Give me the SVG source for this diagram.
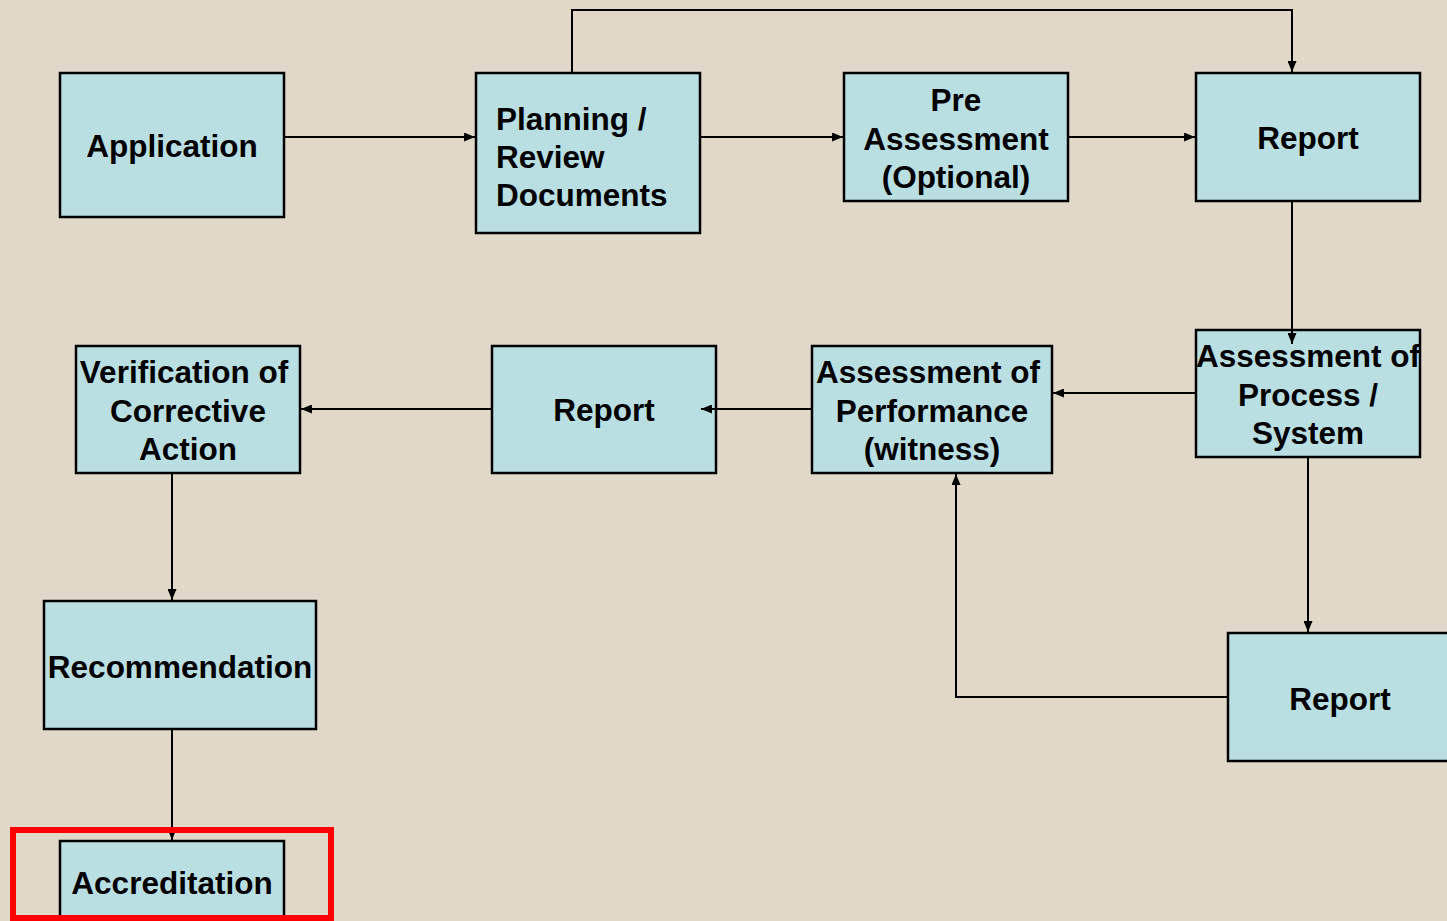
<svg xmlns="http://www.w3.org/2000/svg" width="1447" height="921" viewBox="0 0 1447 921">
<style>
.box{fill:#B9DFE3;stroke:#000;stroke-width:2.5}
.t{font-family:"Liberation Sans",Arial,sans-serif;font-weight:bold;font-size:31.5px;fill:#000;text-anchor:middle}
.tl{text-anchor:start}
.c{fill:none;stroke:#000;stroke-width:2}
</style>
<defs>
<marker id="a" viewBox="0 0 11 9" refX="11" refY="4.5" markerWidth="11" markerHeight="9" markerUnits="userSpaceOnUse" orient="auto">
<path d="M0,0 L11,4.5 L0,9 Z" fill="#000"/>
</marker>
</defs>
<rect width="1447" height="921" fill="#E2D8CA"/>
<g id="application"><rect class="box" x="60" y="73" width="224" height="144"/><text class="t" x="172" y="157">Application</text></g>
<g id="planning"><rect class="box" x="476" y="73" width="224" height="160"/><text class="t tl" x="496" y="130">Planning /</text><text class="t tl" x="496" y="168">Review</text><text class="t tl" x="496" y="206">Documents</text></g>
<g id="pre-assessment"><rect class="box" x="844" y="73" width="224" height="128"/><text class="t" x="956" y="111">Pre</text><text class="t" x="956" y="150">Assessment</text><text class="t" x="956" y="188">(Optional)</text></g>
<g id="report1"><rect class="box" x="1196" y="73" width="224" height="128"/><text class="t" x="1308" y="149">Report</text></g>
<g id="assessment-process"><rect class="box" x="1196" y="330" width="224" height="127"/><text class="t" x="1308" y="367">Assessment of</text><text class="t" x="1308" y="406">Process /</text><text class="t" x="1308" y="444">System</text></g>
<g id="assessment-performance"><rect class="box" x="812" y="346" width="240" height="127"/><text class="t" x="928" y="383">Assessment of</text><text class="t" x="932" y="422">Performance</text><text class="t" x="932" y="460">(witness)</text></g>
<g id="report2"><rect class="box" x="492" y="346" width="224" height="127"/><text class="t" x="604" y="421">Report</text></g>
<g id="verification"><rect class="box" x="76" y="346" width="224" height="127"/><text class="t" x="184" y="383">Verification of</text><text class="t" x="188" y="422">Corrective</text><text class="t" x="188" y="460">Action</text></g>
<g id="recommendation"><rect class="box" x="44" y="601" width="272" height="128"/><text class="t" x="180" y="678">Recommendation</text></g>
<g id="report3"><rect class="box" x="1228" y="633" width="230" height="128"/><text class="t" x="1340" y="710">Report</text></g>
<g id="accreditation"><rect class="box" x="60" y="841" width="224" height="90"/><text class="t" x="172" y="894">Accreditation</text></g>
<g id="connectors">
<path class="c" d="M285,137 H475" marker-end="url(#a)"/>
<path class="c" d="M701,137 H843" marker-end="url(#a)"/>
<path class="c" d="M1069,137 H1195" marker-end="url(#a)"/>
<path class="c" d="M572,72 V10 H1292 V72" marker-end="url(#a)"/>
<path class="c" d="M1292,202 V344" marker-end="url(#a)"/>
<path class="c" d="M1195,393 H1053" marker-end="url(#a)"/>
<path class="c" d="M811,409 H701" marker-end="url(#a)"/>
<path class="c" d="M491,409 H301" marker-end="url(#a)"/>
<path class="c" d="M172,474 V600" marker-end="url(#a)"/>
<path class="c" d="M172,730 V840" marker-end="url(#a)"/>
<path class="c" d="M1308,458 V632" marker-end="url(#a)"/>
<path class="c" d="M1227,697 H956 V474" marker-end="url(#a)"/>
</g>
<rect x="13" y="830" width="318" height="88" fill="none" stroke="#FF0000" stroke-width="6"/>
</svg>
